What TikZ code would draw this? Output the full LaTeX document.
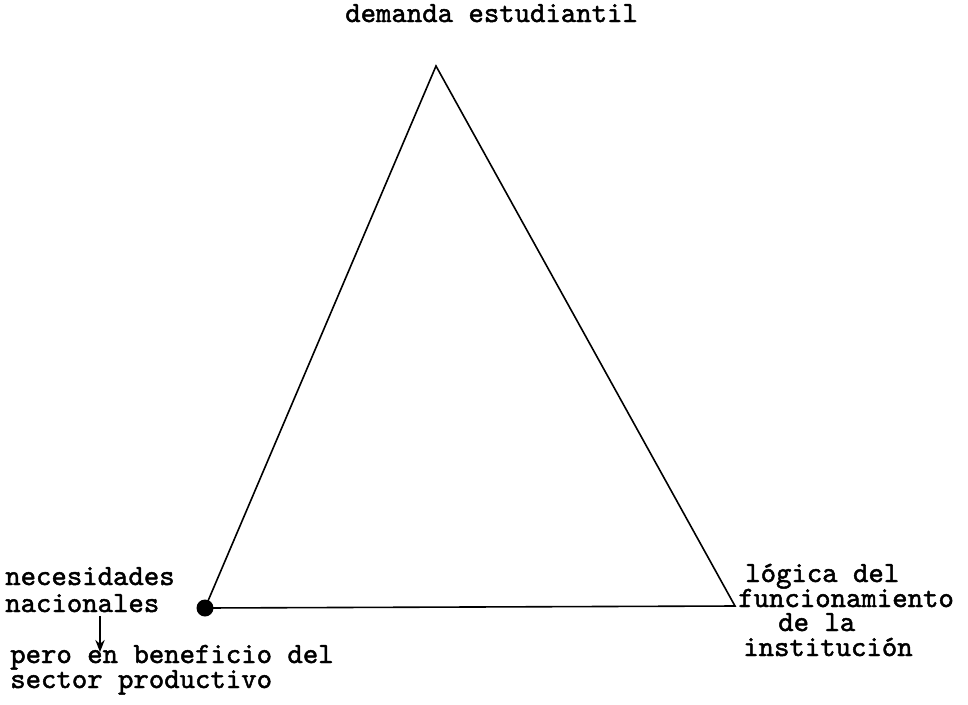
\documentclass[tikz,border=0pt]{standalone}
\usepackage{fontspec}
\newfontfamily\twfont{lmmono10-regular.otf}[FakeBold=1.6]
\usetikzlibrary{arrows.meta}

\tikzset{
  tw/.style={font=\twfont\fontsize{22}{22}\selectfont, inner sep=0pt, align=left,
    text height=13pt, text depth=3pt},
  side/.style={line width=1.2pt},
}

\begin{document}
\begin{tikzpicture}[x=0.75pt,y=0.75pt,yscale=-1,xscale=1]
\path (0,0) rectangle (968,704); %set diagram to 968 x 704

%Vertices
\coordinate (top) at (436,66);
\coordinate (left) at (205,608);
\coordinate (right) at (735,606);

%Triangle
\draw [side] (left) -- (top) -- (right) -- (left);
%Shape: Circle
\fill (left) circle (8.5);

% Text Node
\node (demanda) [tw, anchor=base west] at (345,22) {demanda estudiantil};
% Text Node
\node (necesidades) [tw, anchor=base west] at (5,585) {necesidades};
% Text Node
\node (nacionales) [tw, anchor=base west] at (5,612) {nacionales};
% Text Node
\node (pero) [tw, anchor=base west] at (10,663) {pero en beneficio del};
% Text Node
\node (sector) [tw, anchor=base west] at (10,688) {sector productivo};
% Text Node
\node (logica) [tw, anchor=base west] at (745,582) {lógica del};
% Text Node
\node (funcionamiento) [tw, anchor=base west] at (738,607) {funcionamiento};
% Text Node
\node (dela) [tw, anchor=base west] at (778,631) {de la};
% Text Node
\node (institucion) [tw, anchor=base west] at (743,656) {institución};

%Straight Lines
\coordinate (arrfrom) at (100,616);
\coordinate (arrto) at (100,652);
\draw [line width=1.4pt, -{Stealth[length=9pt,width=7pt]}] (arrfrom) -- (arrto);

\end{tikzpicture}
\end{document}
